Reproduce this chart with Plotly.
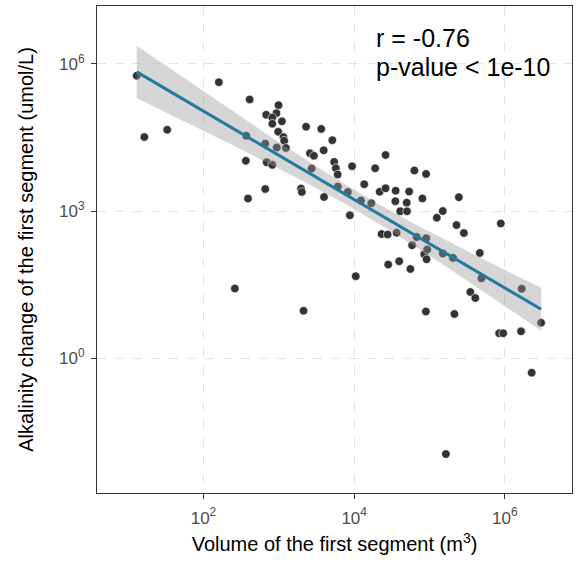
import numpy as np
import plotly.graph_objects as go

# Volume of the first segment (m^3) and alkalinity change (umol/L)
volume = [
    13.0, 16.4, 33.0, 160, 410, 990, 680, 930, 820, 820,
    1100, 980, 1150, 1180, 1240, 940, 660, 370, 365, 690,
    820, 660, 390, 1970, 2020, 2300, 3660, 5130, 3940, 2590,
    2920, 2730, 5420, 5710, 6040, 6080, 8240, 3980, 2.61e4, 9380,
    1.90e4, 6.30e4, 9.00e4, 1.36e4, 2.18e4, 2.61e4, 3.55e4, 5.37e4, 3.52e4, 4.98e4,
    4.08e4, 5.02e4, 8.05e4, 2.45e5, 8770, 1.23e4, 1.69e4, 1.50e5, 1.25e5, 2.28e5,
    2.86e5, 8.83e5, 4.65e5, 2.31e4, 2.78e4, 3.66e4, 6.75e4, 9.04e4, 5.87e4, 8.51e4,
    9.31e4, 9.14e4, 1.50e5, 2.05e5, 2.83e4, 3.96e4, 5.57e4, 1.05e4, 8.95e4, 2.14e5,
    3.48e5, 4.05e5, 4.89e5, 1.67e6, 3.03e6, 8.40e5, 9.50e5, 1.64e6, 2.27e6, 1.65e5,
    261, 2130,
]
alkalinity = [
    5.70e5, 3.20e4, 4.50e4, 4.20e5, 1.87e5, 1.43e5, 9.10e4, 9.80e4, 8.00e4, 6.00e4,
    6.70e4, 4.10e4, 3.20e4, 2.70e4, 1.92e4, 1.96e4, 2.35e4, 3.40e4, 1.05e4, 9800,
    8700, 2800, 1800, 2870, 2440, 5.20e4, 4.70e4, 2.77e4, 1.72e4, 1.50e4,
    1.33e4, 7350, 1.00e4, 7450, 5530, 3150, 2440, 1930, 1.38e4, 8170,
    7410, 6680, 5680, 3500, 2470, 2900, 2590, 2490, 1580, 1480,
    990, 990, 1800, 1910, 820, 1640, 1440, 995, 728, 516,
    356, 556, 140, 340, 332, 360, 295, 279, 201, 131,
    164, 104, 137, 111, 81, 95, 66, 47, 9.0, 8.0,
    22.4, 16.9, 42.8, 26, 5.3, 3.23, 3.24, 3.55, 0.51, 0.0112,
    26.4, 9.3,
]

x_tick_vals = [1e2, 1e4, 1e6]
x_tick_text = ["10<sup>2</sup>", "10<sup>4</sup>", "10<sup>6</sup>"]
y_tick_vals = [1e0, 1e3, 1e6]
y_tick_text = ["10<sup>0</sup>", "10<sup>3</sup>", "10<sup>6</sup>"]

stat_lines = ["r = -0.76", "p-value < 1e-10"]

# Linear fit in log-log space with a 95% confidence band
lx = np.log10(np.array(volume))
ly = np.log10(np.array(alkalinity))
n = len(lx)
slope, intercept = np.polyfit(lx, ly, 1)
resid = ly - (slope * lx + intercept)
s = np.sqrt(np.sum(resid ** 2) / (n - 2))
sxx = np.sum((lx - lx.mean()) ** 2)
t_crit = 1.9867  # t quantile, 0.975, ~90 df
gx = np.linspace(lx.min(), lx.max(), 80)
gy = slope * gx + intercept
se = s * np.sqrt(1.0 / n + (gx - lx.mean()) ** 2 / sxx)
upper = gy + t_crit * se
lower = gy - t_crit * se

fig = go.Figure()

fig.add_trace(go.Scatter(
    x=volume, y=alkalinity, mode="markers",
    marker=dict(size=8.5, color="#333333", line=dict(color="white", width=0.6)),
    showlegend=False, hoverinfo="skip",
))

band_x = np.concatenate([gx, gx[::-1]])
band_y = np.concatenate([upper, lower[::-1]])
fig.add_trace(go.Scatter(
    x=10 ** band_x, y=10 ** band_y, mode="lines", fill="toself",
    fillcolor="rgba(153,153,153,0.4)", line=dict(width=0),
    showlegend=False, hoverinfo="skip",
))

fig.add_trace(go.Scatter(
    x=10 ** gx, y=10 ** gy, mode="lines",
    line=dict(color="#2479A0", width=3),
    showlegend=False, hoverinfo="skip",
))

font_family = "Liberation Sans, Arial, sans-serif"

for i, txt in enumerate(stat_lines):
    fig.add_annotation(
        xref="paper", yref="paper", x=0.583, y=[0.934, 0.875][i],
        xanchor="left", yanchor="middle", showarrow=False, align="left",
        text=txt, font=dict(family=font_family, size=25, color="black"),
    )

axis_common = dict(
    type="log",
    showgrid=True, gridcolor="#E3E3E3", griddash="dash", gridwidth=1,
    zeroline=False,
    showline=True, linecolor="#333333", linewidth=1.2, mirror=True,
    ticks="outside", ticklen=5, tickcolor="#333333", tickwidth=1,
    tickfont=dict(family=font_family, size=17, color="#4D4D4D"),
    title_font=dict(family=font_family, size=20, color="black"),
)

fig.update_xaxes(
    **axis_common,
    range=[0.587, 6.891],
    tickvals=x_tick_vals, ticktext=x_tick_text,
    ticklabelstandoff=4,
    title_text="Volume of the first segment (m<sup>3</sup>)",
    title_standoff=10,
)
fig.update_yaxes(
    **axis_common,
    range=[-2.743, 7.175],
    tickvals=y_tick_vals, ticktext=y_tick_text,
    ticklabelstandoff=3,
    title_text="Alkalinity change of the first segment (umol/L)",
    title_standoff=19,
)

fig.update_layout(
    width=583, height=571,
    margin=dict(l=97, r=11, t=6, b=78),
    plot_bgcolor="white", paper_bgcolor="white",
)

fig.write_html("out.html")
